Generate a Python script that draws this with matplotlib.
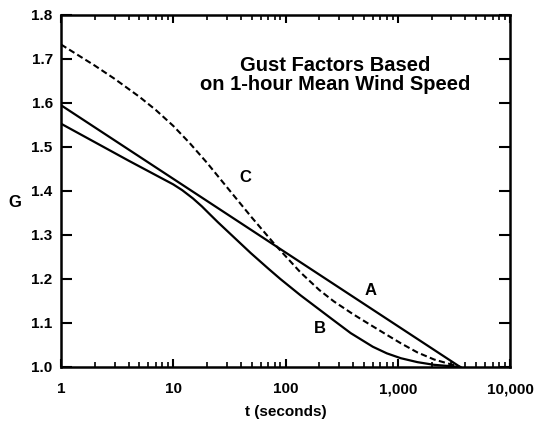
import matplotlib
matplotlib.use("Agg")
import matplotlib.pyplot as plt
from matplotlib.ticker import FixedLocator, FixedFormatter, NullLocator

plt.rcParams['font.family'] = ['Liberation Sans', 'DejaVu Sans']

# Curve A (straight line in log-t)
t_A = [1, 3600]
G_A = [1.595, 1.0]

# Curve B
t_B = [1, 2, 4, 7, 10, 12, 15, 18, 21, 25, 35, 49, 70, 90, 136, 250, 381, 600, 800, 1064, 1500, 2100, 3600]
G_B = [1.553, 1.511, 1.469, 1.436, 1.415, 1.402, 1.383, 1.365, 1.348, 1.329, 1.294, 1.259, 1.224,
       1.200, 1.163, 1.112, 1.077, 1.046, 1.031, 1.020, 1.011, 1.005, 1.0]

# Curve C (dashed)
t_C = [1, 2, 3, 5, 7, 10, 14, 20, 30, 50, 80, 136, 200, 270, 400, 536, 800, 1064, 1500, 2110, 3600]
G_C = [1.733, 1.685, 1.655, 1.614, 1.584, 1.548, 1.509, 1.464, 1.409, 1.340, 1.279, 1.215, 1.175,
       1.149, 1.120, 1.100, 1.073, 1.054, 1.033, 1.017, 1.0]

x_ticks = [1, 10, 100, 1000, 10000]
x_labels = ["1", "10", "100", "1,000", "10,000"]
x_minor = [m * d for d in [1, 10, 100, 1000] for m in range(2, 10)]
y_ticks = [1.0, 1.1, 1.2, 1.3, 1.4, 1.5, 1.6, 1.7, 1.8]
y_labels = ["1.0", "1.1", "1.2", "1.3", "1.4", "1.5", "1.6", "1.7", "1.8"]

fig = plt.figure(figsize=(5.38, 4.21), dpi=100)
ax = fig.add_axes([61/538, 1-367/421, (510-61)/538, (367-15)/421])

ax.plot(t_A, G_A, color='black', lw=1.6)
ax.plot(t_B, G_B, color='black', lw=1.6)
ax.plot(t_C, G_C, color='black', lw=1.5, dashes=(3, 1.6))

ax.set_xscale('log')
ax.set_xlim(1, 10000)
ax.set_ylim(1.0, 1.8)

ax.xaxis.set_major_locator(FixedLocator(x_ticks))
ax.xaxis.set_major_formatter(FixedFormatter(x_labels))
ax.xaxis.set_minor_locator(FixedLocator(x_minor))
ax.yaxis.set_major_locator(FixedLocator(y_ticks))
ax.yaxis.set_major_formatter(FixedFormatter(y_labels))
ax.yaxis.set_minor_locator(NullLocator())

ax.tick_params(axis='x', which='major', direction='in', length=6, width=1.5,
               top=True, color='black', labelsize=11, pad=11)
ax.tick_params(axis='x', which='minor', direction='in', length=3.5, width=1.2,
               top=True, color='black')
ax.tick_params(axis='y', which='major', direction='in', length=8, width=1.5,
               right=True, color='black', labelsize=11, pad=6)
for lab in ax.get_xticklabels() + ax.get_yticklabels():
    lab.set_fontweight('bold')

for s in ax.spines.values():
    s.set_linewidth(1.8)

ax.set_xlabel('t (seconds)', fontsize=11, fontweight='bold', labelpad=6)
ax.set_ylabel('G', fontsize=12, fontweight='bold', rotation=0, va='center', ha='center')
ax.yaxis.set_label_coords(-0.103, 0.466)

ax.text(0.61, 0.83, 'Gust Factors Based\non 1-hour Mean Wind Speed', transform=ax.transAxes,
        ha='center', va='center', fontsize=14.5, fontweight='bold', linespacing=1.0)

ax.text(574, 1.174, 'A', fontsize=12, fontweight='bold', ha='center', va='center')
ax.text(204, 1.087, 'B', fontsize=12, fontweight='bold', ha='center', va='center')
ax.text(44, 1.43, 'C', fontsize=12, fontweight='bold', ha='center', va='center')

fig.savefig('out.png', dpi=100)
